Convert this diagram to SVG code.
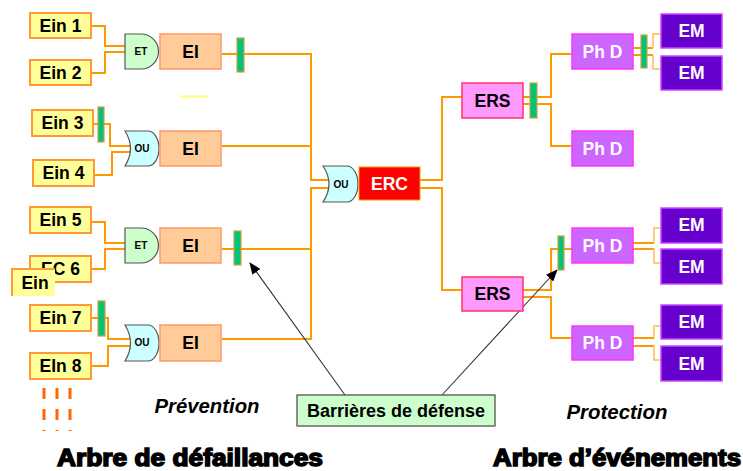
<svg xmlns="http://www.w3.org/2000/svg" width="743" height="471" viewBox="0 0 743 471">
<defs>
<marker id="ah" markerWidth="12" markerHeight="10" refX="11" refY="5" orient="auto" markerUnits="userSpaceOnUse">
<path d="M0,0 L12,5 L0,10 Z" fill="#000"/>
</marker>
<style>
.ln{fill:none;stroke:#ff9900;stroke-width:2}
.lt{fill:none;stroke:#ffbb55;stroke-width:1.5}
.ein{fill:#ffff99;stroke:#ff9933;stroke-width:2}
.ei{fill:#ffcc99;stroke:#ff9966;stroke-width:1.5}
.bar{fill:#00c47a;stroke:#d0a040;stroke-width:1.2}
.et{fill:#ccffcc;stroke:#555;stroke-width:1.2}
.ou{fill:#ccffff;stroke:#555;stroke-width:1.2}
.ers{fill:#ff99ff;stroke:#ff3366;stroke-width:1.5}
.phd{fill:#cc66ff;stroke:#ff33ff;stroke-width:1.5}
.em{fill:#6600cc;stroke:#cc44ff;stroke-width:1.5}
.t{font-family:"Liberation Sans",Arial,sans-serif;font-weight:bold;font-size:17.5px;text-anchor:middle;fill:#000}
.w{fill:#fff}
.g{font-family:"Liberation Sans",Arial,sans-serif;font-weight:bold;font-size:10px;text-anchor:middle;fill:#000}
.it{font-family:"Liberation Sans",Arial,sans-serif;font-weight:bold;font-style:italic;font-size:19.5px;text-anchor:middle;fill:#000}
.big{font-family:"Liberation Sans",Arial,sans-serif;font-weight:bold;font-size:23px;fill:#000;stroke:#000;stroke-width:1.5}
.arr{fill:none;stroke:#333;stroke-width:1.1}
</style>
</defs>
<rect width="743" height="471" fill="#fff"/>

<g id="connectors">
<polyline class="ln" points="91,26 105,26 105,46 127,46"/>
<polyline class="ln" points="91,73 105,73 105,52 127,52"/>
<polyline class="ln" points="222,54 311,54 311,180 331,180"/>
<polyline class="ln" points="93,124 110,124 110,146 132,146"/>
<polyline class="ln" points="94,175 112,175 112,152 132,152"/>
<polyline class="ln" points="222,146 311,146"/>
<polyline class="ln" points="91,222 105,222 105,243 127,243"/>
<polyline class="ln" points="91,269 105,269 105,249 127,249"/>
<polyline class="ln" points="222,249 311,249"/>
<polyline class="ln" points="91,318 108,318 108,339 132,339"/>
<polyline class="ln" points="91,366 108,366 108,346 132,346"/>
<polyline class="ln" points="222,339 311,339 311,188 331,188"/>
<polyline class="ln" points="420,180 442,180 442,97 462,97"/>
<polyline class="ln" points="420,188 442,188 442,290 462,290"/>
<polyline class="ln" points="523,97 551,97 551,54 572,54"/>
<polyline class="ln" points="523,104 551,104 551,146 572,146"/>
<polyline class="ln" points="523,290 551,290 551,249 572,249"/>
<polyline class="ln" points="523,297 551,297 551,338 572,338"/>
<polyline class="ln" points="633,48 653,48"/>
<polyline class="ln" points="633,55 653,55"/>
<polyline class="lt" points="653,48 653,34 661,34"/>
<polyline class="lt" points="653,55 653,69 661,69"/>
<polyline class="ln" points="633,243 654,243"/>
<polyline class="ln" points="633,249 654,249"/>
<polyline class="lt" points="654,243 654,228 661,228"/>
<polyline class="lt" points="654,249 654,263 661,263"/>
<polyline class="ln" points="633,338 654,338"/>
<polyline class="ln" points="633,346 654,346"/>
<polyline class="lt" points="654,338 654,326 661,326"/>
<polyline class="lt" points="654,346 654,360 661,360"/>
<line class="arr" x1="345" y1="395" x2="250" y2="263" marker-end="url(#ah)"/>
<line class="arr" x1="442" y1="395" x2="557" y2="270" marker-end="url(#ah)"/>
</g>

<line x1="180" y1="96.5" x2="208" y2="96.5" stroke="#ffff66" stroke-width="2"/>

<g id="ein1"><rect class="ein" x="30" y="13" width="61" height="25"/><text class="t" x="60.5" y="32">Ein 1</text></g>
<g id="ein2"><rect class="ein" x="30" y="60" width="61" height="25"/><text class="t" x="60.5" y="79">Ein 2</text></g>
<g id="gate1"><path class="et" d="M125,34 H141 A17.5,17.5 0 0 1 141,69 H125 Z"/><text class="g" x="141" y="55">ET</text></g>
<g id="ei1"><rect class="ei" x="160" y="34" width="61" height="35"/><text class="t" x="190.5" y="58">EI</text></g>
<g id="bar1"><rect class="bar" x="237" y="38" width="7" height="34"/></g>

<g id="ein3"><rect class="ein" x="32" y="110" width="61" height="26"/><text class="t" x="62.5" y="129">Ein 3</text></g>
<g id="barEin3"><rect class="bar" x="98" y="107" width="6" height="35"/></g>
<g id="ein4"><rect class="ein" x="33" y="160" width="61" height="26"/><text class="t" x="63.5" y="179">Ein 4</text></g>
<g id="gate2"><path class="ou" d="M125,131 H148 A11,17.5 0 0 1 148,166 H125 Q136,148.5 125,131 Z"/><text class="g" x="142" y="152">OU</text></g>
<g id="ei2"><rect class="ei" x="160" y="131" width="61" height="35"/><text class="t" x="190.5" y="155">EI</text></g>

<g id="ein5"><rect class="ein" x="30" y="207" width="61" height="26"/><text class="t" x="60.5" y="226">Ein 5</text></g>
<g id="ec6"><rect class="ein" x="30" y="256" width="61" height="26"/><text class="t" x="60.5" y="275">EC 6</text></g>
<g id="einOverlay"><rect x="12" y="269" width="43" height="27" fill="#ffff99"/><path d="M12,296 V269 H55" fill="none" stroke="#ff9933" stroke-width="2"/><text class="t" x="35" y="289">Ein</text></g>
<g id="gate3"><path class="et" d="M125,228 H141 A17.5,17.5 0 0 1 141,263 H125 Z"/><text class="g" x="141" y="249">ET</text></g>
<g id="ei3"><rect class="ei" x="160" y="228" width="61" height="35"/><text class="t" x="190.5" y="252">EI</text></g>
<g id="bar3"><rect class="bar" x="234" y="231" width="7" height="34"/></g>

<g id="ein7"><rect class="ein" x="30" y="305" width="61" height="26"/><text class="t" x="60.5" y="324">Ein 7</text></g>
<g id="barEin7"><rect class="bar" x="98" y="301" width="7" height="35"/></g>
<g id="ein8"><rect class="ein" x="30" y="353" width="61" height="26"/><text class="t" x="60.5" y="372">EIn 8</text></g>
<g id="gate4"><path class="ou" d="M125,325 H148 A11,18 0 0 1 148,361 H125 Q136,343 125,325 Z"/><text class="g" x="142" y="346">OU</text></g>
<g id="ei4"><rect class="ei" x="160" y="325" width="61" height="36"/><text class="t" x="190.5" y="349">EI</text></g>

<g id="dots" stroke="#ff6600" stroke-width="3" stroke-dasharray="11,10">
<line x1="44" y1="388" x2="44" y2="431"/>
<line x1="57" y1="388" x2="57" y2="431"/>
<line x1="70" y1="388" x2="70" y2="431"/>
</g>

<g id="gateCenter"><path class="ou" d="M323,166 H347 A11,18 0 0 1 347,202 H323 Q335,184 323,166 Z"/><text class="g" x="341" y="188">OU</text></g>
<g id="erc"><rect x="359" y="167" width="61" height="33" fill="#ff0000" stroke="#ff9900" stroke-width="1"/><text class="t w" x="389.5" y="190">ERC</text></g>

<g id="ers1"><rect class="ers" x="462" y="83" width="61" height="35"/><text class="t" x="492.5" y="107">ERS</text></g>
<g id="barErs1"><rect class="bar" x="530" y="83" width="7" height="35"/></g>
<g id="ers2"><rect class="ers" x="462" y="277" width="61" height="34"/><text class="t" x="492.5" y="300">ERS</text></g>

<g id="phd1"><rect class="phd" x="572" y="34" width="61" height="35"/><text class="t w" x="602.5" y="58">Ph D</text></g>
<g id="barPhd1"><rect class="bar" x="641" y="35" width="6" height="33"/></g>
<g id="phd2"><rect class="phd" x="572" y="131" width="61" height="35"/><text class="t w" x="602.5" y="155">Ph D</text></g>
<g id="barPhd3"><rect class="bar" x="558" y="236" width="6" height="34"/></g>
<g id="phd3"><rect class="phd" x="572" y="228" width="61" height="35"/><text class="t w" x="602.5" y="252">Ph D</text></g>
<g id="phd4"><rect class="phd" x="572" y="326" width="61" height="34"/><text class="t w" x="602.5" y="349">Ph D</text></g>

<g id="em1"><rect class="em" x="661" y="14" width="61" height="34"/><text class="t w" x="691.5" y="37">EM</text></g>
<g id="em2"><rect class="em" x="661" y="56" width="61" height="34"/><text class="t w" x="691.5" y="79">EM</text></g>
<g id="em3"><rect class="em" x="661" y="208" width="61" height="35"/><text class="t w" x="691.5" y="231">EM</text></g>
<g id="em4"><rect class="em" x="661" y="249" width="61" height="35"/><text class="t w" x="691.5" y="273">EM</text></g>
<g id="em5"><rect class="em" x="661" y="305" width="61" height="34"/><text class="t w" x="691.5" y="328">EM</text></g>
<g id="em6"><rect class="em" x="661" y="346" width="61" height="35"/><text class="t w" x="691.5" y="370">EM</text></g>

<g id="barrieres"><rect x="297" y="395" width="198" height="31" fill="#ccffcc" stroke="#555" stroke-width="1.3"/><text class="t" x="396" y="417" textLength="178" lengthAdjust="spacingAndGlyphs">Barrières de défense</text></g>

<text class="it" x="207" y="413" textLength="105" lengthAdjust="spacingAndGlyphs">Prévention</text>
<text class="it" x="617" y="419" textLength="101" lengthAdjust="spacingAndGlyphs">Protection</text>
<text class="big" x="57" y="466" textLength="266" lengthAdjust="spacingAndGlyphs">Arbre de défaillances</text>
<text class="big" x="493" y="466" textLength="248" lengthAdjust="spacingAndGlyphs">Arbre d’événements</text>
</svg>
